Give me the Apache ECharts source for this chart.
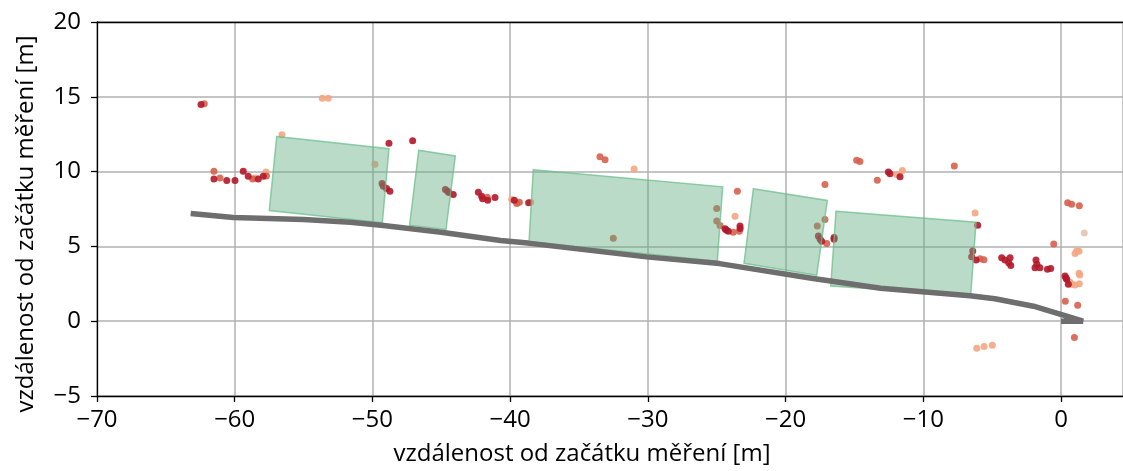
<!DOCTYPE html>
<html><head><meta charset="utf-8">
<script src="https://cdn.jsdelivr.net/npm/echarts@6/dist/echarts.min.js"></script>
<style>html,body{margin:0;padding:0;background:#fff}#c{width:1123px;height:471px}</style>
</head><body><div id="c"></div>
<script>
// axis ticks
const xTicks = [-70, -60, -50, -40, -30, -20, -10, 0];
const yTicks = [-5, 0, 5, 10, 15, 20];
const axisTitle = 'vzdálenost od začátku měření [m]';

// road centre line [x, y]
const road = [[-63.2,7.2],[-60.1,6.93],[-55,6.8],[-51.6,6.62],[-49.2,6.4],[-45,5.95],[-40.7,5.4],[-38.7,5.22],
  [-30.1,4.3],[-24.8,3.85],[-18,2.85],[-13.1,2.2],[-6.6,1.7],[-4.8,1.5],[-2,1.0],[1.6,0.0],[0,0.0]];

// parked-object boxes (vertices)
const box1 = [[-56.95,12.35],[-48.8,11.53],[-49.28,6.58],[-57.49,7.4]];
const box2 = [[-46.64,11.42],[-43.98,11.05],[-44.66,6.13],[-47.30,6.42]];
const box3 = [[-38.32,10.13],[-24.57,8.98],[-24.96,4.0],[-38.63,5.31]];
const box4 = [[-22.34,8.85],[-16.97,8.07],[-17.74,3.07],[-23.02,3.87]];
const box5 = [[-16.34,7.35],[-6.17,6.62],[-6.56,1.73],[-16.72,2.35]];
const boxes = [box1, box2, box3, box4, box5];

// detected points by intensity group
const ptsDark = [[-62.45,14.49],[-48.8,11.89],[-47.08,12.07],[-61.51,9.51],[-60.58,9.4],[-59.98,9.4],[-59.38,10.02],
  [-59.02,9.69],[-58.29,9.51],[-57.93,9.69],[-48.97,8.87],[-48.73,8.69],[-49.21,9.02],[-49.3,9.2],[-44.54,8.69],
  [-44.7,8.8],[-44.45,8.6],[-44.13,8.47],[-42.31,8.62],[-42.07,8.36],[-42.0,8.18],[-41.63,8.09],[-41.1,8.27],
  [-39.7,8.09],[-38.66,7.91],[-24.4,6.18],[-24.16,6.02],[-24.3,6.1],[-23.31,6.36],[-23.3,6.2],[-17.62,5.69],
  [-17.5,5.5],[-17.38,5.35],[-16.48,5.47],[-16.48,5.6],[-12.54,9.98],[-12.42,9.85],[-11.69,9.65],[-6.05,6.42],
  [-6.41,4.69],[-6.49,4.31],[-6.17,4.09],[-4.31,4.24],[-4.07,4.09],[-3.7,4.24],[-3.65,3.73],[-3.8,3.9],
  [-1.82,4.09],[-1.89,3.58],[-1.53,3.58],[-1.75,3.8],[-0.99,3.47],[-0.75,3.53],[0.29,3.02],[0.41,2.8],
  [0.53,2.47],[0.35,2.9]];
const ptsMid = [[-62.21,14.53],[-61.51,10.02],[-61.07,9.58],[-58.7,9.51],[-57.7,9.7],[-41.66,8.29],[-39.52,7.87],
  [-39.33,7.95],[-33.48,11.0],[-33.11,10.8],[-32.51,5.55],[-25.0,7.53],[-25.0,6.69],[-24.76,6.4],[-23.8,5.95],
  [-23.36,6.02],[-23.5,8.69],[-17.14,9.13],[-17.7,6.36],[-17.14,6.8],[-17.01,5.2],[-14.84,10.76],[-14.6,10.67],
  [-13.34,9.42],[-7.75,10.38],[-5.88,4.18],[-5.6,4.1],[-0.53,5.16],[0.48,7.91],[0.77,7.82],[1.33,7.71],
  [0.31,1.33],[1.21,1.07],[0.97,-1.09]];
const ptsLight = [[-53.64,14.91],[-53.21,14.91],[-56.57,12.47],[-58.53,9.58],[-57.73,9.98],[-49.82,10.49],
  [-39.89,8.13],[-38.51,7.95],[-31.0,10.18],[-23.67,7.02],[-11.93,9.8],[-11.52,10.07],[-6.24,7.24],[1.02,4.53],
  [1.14,4.69],[1.31,4.67],[1.31,3.2],[1.36,3.09],[0.77,2.47],[1.02,2.42],[1.33,2.51],[0.65,2.6],
  [-6.12,-1.8],[-5.59,-1.69],[-4.99,-1.6]];
const ptsPale = [[1.69,5.89]];

const FONT = 'Open Sans';
const minus = v => String(v).replace('-', '\u2212');

const chart = echarts.init(document.getElementById('c'), null, {renderer: 'canvas'});
function scatter(data, color, z) {
  return {type: 'scatter', data, symbolSize: 7, z,
    itemStyle: {color, opacity: 0.9}, silent: true, animation: false};
}
chart.setOption({
  animation: false,
  grid: {left: 97, right: 0, top: 22, bottom: 74},
  xAxis: [{
    type: 'value', min: xTicks[0], max: 4.5, interval: 10,
    name: axisTitle, nameLocation: 'middle', nameGap: 46,
    nameTextStyle: {fontFamily: FONT, fontSize: 24, color: '#000', padding: [0, 56, 0, 0]},
    axisLine: {show: true, onZero: false, lineStyle: {color: '#000', width: 1.3}},
    axisTick: {show: true, length: 6, lineStyle: {color: '#000', width: 1.3}},
    axisLabel: {fontFamily: FONT, fontSize: 24, color: '#000', margin: 12, showMaxLabel: false,
      formatter: v => xTicks.includes(v) ? minus(v) : ''},
    splitLine: {show: true, lineStyle: {color: '#b0b0b0', width: 1.5}}
  }, {
    type: 'value', position: 'top', min: xTicks[0], max: 4.5,
    axisLine: {show: true, onZero: false, lineStyle: {color: '#000', width: 1.3}},
    axisTick: {show: false}, axisLabel: {show: false}, splitLine: {show: false}
  }],
  yAxis: {
    type: 'value', min: yTicks[0], max: yTicks[yTicks.length - 1], interval: 5,
    name: axisTitle, nameLocation: 'middle', nameGap: 59, nameRotate: 90,
    nameTextStyle: {fontFamily: FONT, fontSize: 24, color: '#000', padding: [0, 30, 0, 0]},
    axisLine: {show: true, onZero: false, lineStyle: {color: '#000', width: 1.3}},
    axisTick: {show: true, length: 6, lineStyle: {color: '#000', width: 1.3}},
    axisLabel: {fontFamily: FONT, fontSize: 24, color: '#000', margin: 16, formatter: v => minus(v)},
    splitLine: {show: true, lineStyle: {color: '#b0b0b0', width: 1.5}}
  },
  series: [
    scatter(ptsPale, '#e6c3b0', 3),
    scatter(ptsLight, '#f4a582', 4),
    scatter(ptsMid, '#d6604d', 5),
    scatter(ptsDark, '#b2182b', 6),
    {
      type: 'custom', z: 8, silent: true, clip: true,
      data: boxes.map((b, i) => i),
      renderItem: (params, api) => {
        const pts = boxes[params.dataIndex].map(p => api.coord(p));
        return {type: 'polygon', shape: {points: pts},
          style: {fill: 'rgba(95,172,130,0.44)', stroke: 'rgba(110,190,140,0.75)', lineWidth: 1.5}};
      }
    },
    {
      type: 'line', data: road, z: 9, symbol: 'none', silent: true,
      lineStyle: {color: '#6e6e6e', width: 5.5}
    }
  ]
});
</script></body></html>
